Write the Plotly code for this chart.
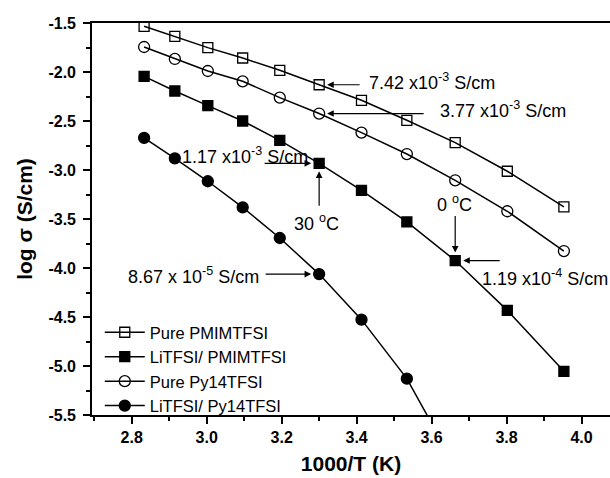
import plotly.graph_objects as go

# ---- data ----
inv_T = [2.833, 2.915, 3.003, 3.096, 3.195, 3.300, 3.413, 3.534, 3.663, 3.802, 3.953]
pure_pmim = [-1.534, -1.636, -1.751, -1.857, -1.983, -2.130, -2.289, -2.493, -2.720, -3.013, -3.377]
li_pmim = [-2.044, -2.194, -2.343, -2.500, -2.697, -2.932, -3.207, -3.530, -3.924, -4.432, -5.054]
pure_py14 = [-1.745, -1.867, -1.990, -2.095, -2.261, -2.424, -2.618, -2.837, -3.105, -3.421, -3.827]
li_py14 = [-2.673, -2.881, -3.115, -3.381, -3.694, -4.062, -4.527, -5.129, -6.020]

series_names = ["Pure PMIMTFSI", "LiTFSI/ PMIMTFSI", "Pure Py14TFSI", "LiTFSI/ Py14TFSI"]

x_tickvals = [2.8, 3.0, 3.2, 3.4, 3.6, 3.8, 4.0]
x_ticktext = ["2.8", "3.0", "3.2", "3.4", "3.6", "3.8", "4.0"]
y_tickvals = [-1.5, -2.0, -2.5, -3.0, -3.5, -4.0, -4.5, -5.0, -5.5]
y_ticktext = ["-1.5", "-2.0", "-2.5", "-3.0", "-3.5", "-4.0", "-4.5", "-5.0", "-5.5"]

FONT = "Arial, Liberation Sans, Helvetica, sans-serif"

fig = go.Figure()
styles = [
    dict(symbol="square-open", size=10),
    dict(symbol="square", size=10),
    dict(symbol="circle-open", size=11),
    dict(symbol="circle", size=11),
]
ys = [pure_pmim, li_pmim, pure_py14, li_py14]
for name, y, st in zip(series_names, ys, styles):
    fig.add_trace(go.Scatter(
        x=inv_T[:len(y)], y=y, name=name, mode="lines+markers",
        line=dict(color="black", width=1.5),
        marker=dict(symbol=st["symbol"], size=st["size"], color="black",
                    line=dict(color="black", width=1.3)),
    ))

ann_font = dict(family=FONT, size=18, color="black")

# text labels
texts = [
    ("7.42 x10<sup>-3</sup> S/cm", 3.427, -2.095, "left"),
    ("3.77 x10<sup>-3</sup> S/cm", 3.618, -2.381, "left"),
    ("1.17 x10<sup>-3</sup> S/cm", 2.930, -2.850, "left"),
    ("30 <sup>o</sup>C", 3.294, -3.533, "center"),
    ("0 <sup>o</sup>C", 3.661, -3.340, "center"),
    ("1.19 x10<sup>-4</sup> S/cm", 3.730, -4.094, "left"),
    ("8.67 x 10<sup>-5</sup> S/cm", 2.784, -4.074, "left"),
]
for t, x, y, xa in texts:
    fig.add_annotation(x=x, y=y, text=t, showarrow=False, xanchor=xa,
                       yanchor="middle", font=ann_font)

# arrows pointing to data points
arrows = [
    (inv_T[5], pure_pmim[5], 42, 0),
    (inv_T[5], pure_py14[5], 106, 0),
    (inv_T[5], li_pmim[5], -56, 0),
    (inv_T[5], li_pmim[5], 0, 44),
    (inv_T[8], li_pmim[8], 0, -46),
    (inv_T[8], li_pmim[8], 46, 0),
    (inv_T[5], li_py14[5], -55, 0),
]
for x, y, ax, ay in arrows:
    fig.add_annotation(x=x, y=y, ax=ax, ay=ay, text="", showarrow=True,
                       arrowhead=2, arrowsize=1.1, arrowwidth=1.2,
                       arrowcolor="black", standoff=8)

axis_common = dict(
    showline=True, linecolor="black", linewidth=1.6,
    ticks="outside", ticklen=7, tickwidth=1.5, tickcolor="black",
    showgrid=False, zeroline=False, automargin=False,
    tickfont=dict(family=FONT, size=16, color="black", weight="bold"),
)

fig.update_xaxes(
    range=[2.694, 4.076], tickvals=x_tickvals, ticktext=x_ticktext,
    mirror=True,
    minor=dict(ticks="outside", ticklen=4, tickwidth=1.5, tickcolor="black", dtick=0.1, tick0=2.7),
    title=dict(text="1000/T (K)", font=dict(family=FONT, size=21, color="black", weight="bold"), standoff=11),
    **axis_common,
)
fig.update_yaxes(
    range=[-5.5, -1.5], tickvals=y_tickvals, ticktext=y_ticktext,
    ticklabelstandoff=4,
    minor=dict(ticks="outside", ticklen=4, tickwidth=1.5, tickcolor="black", dtick=0.25, tick0=-1.5),
    title=dict(text="log σ (S/cm)", font=dict(family=FONT, size=21, color="black", weight="bold"), standoff=10),
    **axis_common,
)

fig.update_layout(
    width=610, height=478,
    margin=dict(l=92, r=0, t=23, b=63),
    plot_bgcolor="white", paper_bgcolor="white",
    showlegend=True,
    legend=dict(x=0.015, y=0.255, xanchor="left", yanchor="top",
                bgcolor="rgba(0,0,0,0)", font=dict(family=FONT, size=16.5, color="black"),
                tracegroupgap=0, itemwidth=40),
)

fig.write_html("out.html", config={"displayModeBar": False},
               post_script="document.body.style.margin='0';")
